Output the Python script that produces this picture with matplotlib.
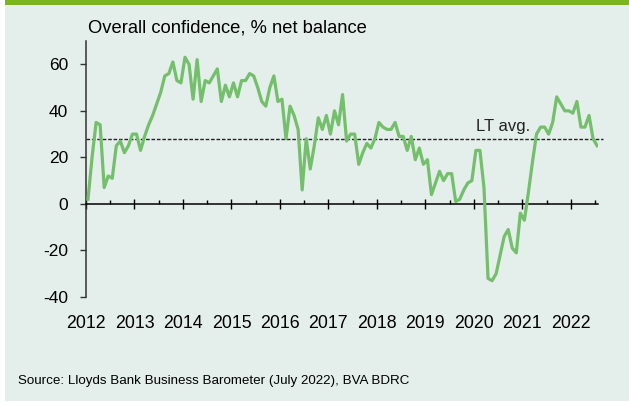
import matplotlib
matplotlib.use("Agg")
import matplotlib.pyplot as plt
from matplotlib.patches import Rectangle
import numpy as np

plt.rcParams['font.family'] = ['Liberation Sans', 'DejaVu Sans']

# Monthly overall confidence, % net balance, Jan 2012 .. Jul 2022
confidence = [
    # 2012
    2, 20, 35, 34, 7, 12, 11, 25, 27, 22, 25, 30,
    # 2013
    30, 23, 29, 34, 38, 43, 48, 55, 56, 61, 53, 52,
    # 2014
    63, 60, 45, 62, 44, 53, 52, 55, 58, 44, 51, 46,
    # 2015
    52, 46, 53, 53, 56, 55, 50, 44, 42, 50, 55, 44,
    # 2016
    45, 28, 42, 38, 32, 6, 28, 15, 25, 37, 32, 38,
    # 2017
    30, 40, 34, 47, 27, 30, 30, 17, 22, 26, 24, 28,
    # 2018
    35, 33, 32, 32, 35, 29, 29, 23, 29, 19, 24, 17,
    # 2019
    19, 4, 9, 14, 10, 13, 13, 1, 2, 6, 9, 10,
    # 2020
    23, 23, 7, -32, -33, -30, -22, -14, -11, -19, -21, -4,
    # 2021
    -7, 5, 18, 30, 33, 33, 30, 35, 46, 43, 40, 40,
    # 2022
    39, 44, 33, 33, 38, 28, 25,
]
start_year = 2012
lt_average = 28
years = list(range(2012, 2023))
year_labels = [str(y) for y in years]
yticks = [-40, -20, 0, 20, 40, 60]

title = "Overall confidence, % net balance"
source = "Source: Lloyds Bank Business Barometer (July 2022), BVA BDRC"
lt_label = "LT avg."

W, H = 629, 403
fig = plt.figure(figsize=(W / 100, H / 100), dpi=100)
fig.patch.set_facecolor('white')

# panel background and top bar
fig.patches.append(Rectangle((5 / W, 0.005), 1 - 5 / W, 0.995, transform=fig.transFigure,
                             facecolor='#e4eeea', edgecolor='none', zorder=-10))
fig.patches.append(Rectangle((5 / W, 1 - 5 / H), 1 - 5 / W, 5 / H, transform=fig.transFigure,
                             facecolor='#7ab51d', edgecolor='none', zorder=-9))

left_px, right_px, top_px, bottom_px = 86, 598, 41, 297
ax = fig.add_axes([left_px / W, 1 - bottom_px / H, (right_px - left_px) / W, (bottom_px - top_px) / H])
ax.set_facecolor('none')

n = len(confidence)
t = start_year + (np.arange(n) + 0.5) / 12.0
ax.plot(t, confidence, color='#74bf6b', lw=2.3, solid_joinstyle='round', zorder=3)

ax.axhline(lt_average, xmin=0, xmax=1.01, color='#222222', lw=1.0,
           dashes=(2.6, 1.3), zorder=2, clip_on=False)
ax.text(2020.05, lt_average + 2.2, lt_label, fontsize=12, color='#222222',
        ha='left', va='bottom')

ax.set_xlim(2012, 2022.56)
ax.set_ylim(-40, 70)

for s in ['top', 'right']:
    ax.spines[s].set_visible(False)
ax.spines['bottom'].set_position(('data', 0))
ax.spines['bottom'].set_color('black')
ax.spines['bottom'].set_linewidth(1.1)
ax.spines['left'].set_color('#333333')
ax.spines['left'].set_linewidth(1.1)

ax.set_yticks(yticks)
ax.set_yticklabels([str(v) for v in yticks], fontsize=12.5)
ax.tick_params(axis='y', direction='out', length=4, width=1, pad=9, colors='#333333',
               labelcolor='black')

ax.set_xticks(years)
ax.set_xticks([y + 0.5 for y in years], minor=True)
ax.tick_params(axis='x', which='major', direction='inout', length=7.5, width=1,
               labelbottom=False)
ax.tick_params(axis='x', which='minor', direction='in', length=2.6, width=1)

sec = ax.secondary_xaxis('bottom')
sec.set_xticks(years)
sec.set_xticklabels(year_labels, fontsize=12.8)
sec.tick_params(length=0, pad=13)
sec.spines['bottom'].set_visible(False)

fig.text(88 / W, 1 - 28 / H, title, fontsize=13.2, ha='left', va='center')
fig.text(18 / W, 1 - 381 / H, source, fontsize=9.6, ha='left', va='center')

fig.savefig('out.png', dpi=100, facecolor=fig.get_facecolor())
